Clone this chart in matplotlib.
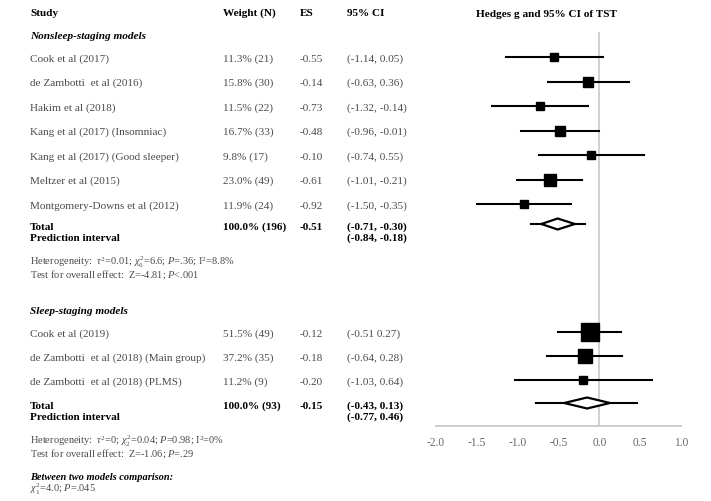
# -*- coding: utf-8 -*-
import matplotlib
matplotlib.use("Agg")
import matplotlib.pyplot as plt
import numpy as np

plt.rcParams['font.family'] = ['Liberation Serif', 'DejaVu Serif']
plt.rcParams['mathtext.fontset'] = 'custom'
plt.rcParams['mathtext.rm'] = 'Liberation Serif'
plt.rcParams['mathtext.it'] = 'Liberation Serif:italic'
plt.rcParams['mathtext.bf'] = 'Liberation Serif:bold'

# --- data ---
ns_studies = ["Cook et al (2017)", "de Zambotti  et al (2016)", "Hakim et al (2018)",
              "Kang et al (2017) (Insomniac)", "Kang et al (2017) (Good sleeper)",
              "Meltzer et al (2015)", "Montgomery-Downs et al (2012)"]
ns_weight = [11.3, 15.8, 11.5, 16.7, 9.8, 23.0, 11.9]
ns_n = [21, 30, 22, 33, 17, 49, 24]
ns_es = [-0.55, -0.14, -0.73, -0.48, -0.10, -0.61, -0.92]
ns_lo = [-1.14, -0.63, -1.32, -0.96, -0.74, -1.01, -1.50]
ns_hi = [0.05, 0.36, -0.14, -0.01, 0.55, -0.21, -0.35]
ns_total = dict(n=196, es=-0.51, lo=-0.71, hi=-0.30, plo=-0.84, phi=-0.18)

ss_studies = ["Cook et al (2019)", "de Zambotti  et al (2018) (Main group)",
              "de Zambotti  et al (2018) (PLMS)"]
ss_weight = [51.5, 37.2, 11.2]
ss_n = [49, 35, 9]
ss_es = [-0.12, -0.18, -0.20]
ss_lo = [-0.51, -0.64, -1.03]
ss_hi = [0.27, 0.28, 0.64]
ss_ci_text = ["(-0.51 0.27)", "(-0.64, 0.28)", "(-1.03, 0.64)"]
ss_total = dict(n=93, es=-0.15, lo=-0.43, hi=0.13, plo=-0.77, phi=0.46)

ticks = [-2.0, -1.5, -1.0, -0.5, 0.0, 0.5, 1.0]

W, H = 711, 502
fig = plt.figure(figsize=(W / 100, H / 100), dpi=100)

GRAY = '#4a4a4a'
FS = 8.1
FS_SMALL = 7.5


def txt(x, y, s, bold=False, italic=False, color=None, size=FS, ha='left'):
    # y is the visual middle of capitals; place on baseline so rows line up
    base = y + size * 100 / 72 * 0.33
    fig.text(x / W, 1 - base / H, s, ha=ha, va='baseline', fontsize=size,
             fontweight='bold' if bold else 'normal',
             fontstyle='italic' if italic else 'normal',
             color=color or ('black' if bold else GRAY))


X_STUDY, X_W, X_ES, X_CI = 30, 223, 300, 347

# headers
txt(X_STUDY, 12, "Study", bold=True)
txt(X_W, 12, "Weight (N)", bold=True)
txt(X_ES, 12, "ES", bold=True)
txt(X_CI, 12, "95% CI", bold=True)
txt(547, 13, "Hedges g and 95% CI of TST", bold=True, ha='center')

# forest axes (y in pixel rows)
ax = fig.add_axes([436 / W, 1 - 427 / H, 245 / W, (427 - 33) / H])
ax.set_xlim(-2, 1)
ax.set_ylim(427, 33)
for s in ['top', 'right', 'left']:
    ax.spines[s].set_visible(False)
ax.spines['bottom'].set_color('#c8c8c8')
ax.spines['bottom'].set_linewidth(1.3)
ax.set_yticks([])
ax.set_xticks(ticks)
ax.set_xticklabels([f"{t:.1f}" for t in ticks])
ax.tick_params(axis='x', length=0, pad=7, labelcolor='#6a6a6a', labelsize=8.3)
ax.axvline(0, color='#c8c8c8', lw=1.2, zorder=0)


def section(title, y_title, y0, step, studies, weight, n, es, lo, hi, ci_text,
            y_tot, tot, het):
    txt(X_STUDY, y_title, title, bold=True, italic=True)
    for i in range(len(studies)):
        y = y0 + step * i
        txt(X_STUDY, y, studies[i])
        txt(X_W, y, f"{weight[i]:.1f}% ({n[i]})")
        txt(X_ES, y, f"{es[i]:.2f}")
        txt(X_CI, y, ci_text[i])
        ax.plot([lo[i], hi[i]], [y, y], color='black', lw=1.5, clip_on=False)
        ax.plot(es[i], y, marker='s', color='black',
                markersize=2.4 * np.sqrt(weight[i]) * 0.72, clip_on=False)
    txt(X_STUDY, y_tot, "Total", bold=True)
    txt(X_STUDY, y_tot + 11.5, "Prediction interval", bold=True)
    txt(X_W, y_tot, f"100.0% ({tot['n']})", bold=True)
    txt(X_ES, y_tot, f"{tot['es']:.2f}", bold=True)
    txt(X_CI, y_tot, f"({tot['lo']:.2f}, {tot['hi']:.2f})", bold=True)
    txt(X_CI, y_tot + 11.5, f"({tot['plo']:.2f}, {tot['phi']:.2f})", bold=True)
    yd = y_tot - 1
    ax.plot([tot['plo'], tot['phi']], [yd, yd], color='black', lw=1.5)
    ax.fill([tot['lo'], tot['es'], tot['hi'], tot['es']],
            [yd, yd - 5.5, yd, yd + 5.5], facecolor='white',
            edgecolor='black', lw=1.6, zorder=3)
    txt(X_STUDY, y_tot + 36, het[0], size=FS_SMALL)
    txt(X_STUDY, y_tot + 48.5, het[1], size=FS_SMALL)


section("Nonsleep-staging models", 35, 58, 24.5, ns_studies, ns_weight, ns_n,
        ns_es, ns_lo, ns_hi,
        [f"({a:.2f}, {b:.2f})" for a, b in zip(ns_lo, ns_hi)],
        226, ns_total,
        [r"Heterogeneity:  $\tau^2$=0.01; $\chi^2_{\mathit{6}}$=6.6; $\mathit{P}$=.36; I$^2$=8.8%",
         r"Test for overall effect:  Z=-4.81; $\mathit{P}$<.001"])

section("Sleep-staging models", 310, 333, 24, ss_studies, ss_weight, ss_n,
        ss_es, ss_lo, ss_hi, ss_ci_text, 405, ss_total,
        [r"Heterogeneity:  $\tau^2$=0; $\chi^2_{\mathit{2}}$=0.04; $\mathit{P}$=0.98; I$^2$=0%",
         r"Test for overall effect:  Z=-1.06; $\mathit{P}$=.29"])

txt(X_STUDY, 477, "Between two models comparison:", bold=True, italic=True, size=FS_SMALL)
txt(X_STUDY, 489.5, r"$\chi^2_{\mathit{1}}$=4.0; $\mathit{P}$=.045", size=FS_SMALL)

fig.savefig("out.png", dpi=100)
